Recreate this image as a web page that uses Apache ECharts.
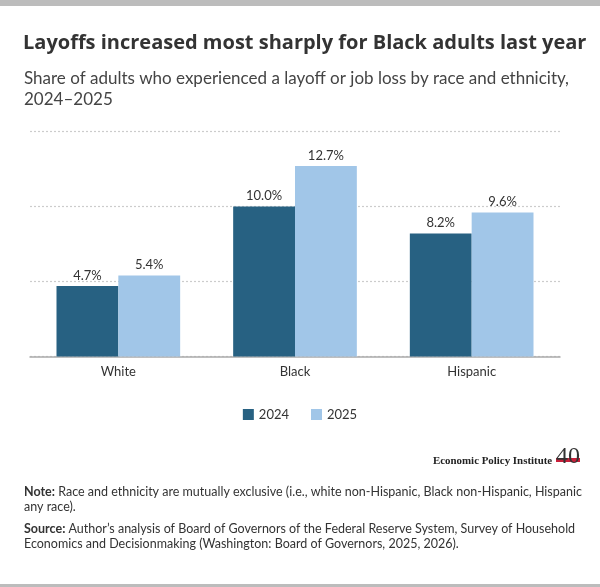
<!DOCTYPE html>
<html>
<head>
<meta charset="utf-8">
<style>
  html, body { margin: 0; padding: 0; background: #fff; }
  #chart { width: 600px; height: 587px; }
</style>
<script src="https://cdn.jsdelivr.net/npm/echarts@6/dist/echarts.min.js"></script>
</head>
<body>
<div id="chart"></div>
<script>
// data
var categories = ['White', 'Black', 'Hispanic'];
var seriesNames = ['2024', '2025'];
var values2024 = [4.7, 10.0, 8.2];
var values2025 = [5.4, 12.7, 9.6];
var yTicks = [0, 5, 10, 15];

var darkBlue = '#276182';
var lightBlue = '#a1c6e8';
var textColor = '#333333';
var font = 'Lato, "Open Sans", sans-serif';

var myChart = echarts.init(document.getElementById('chart'), null, { renderer: 'canvas' });

// value label above each bar
function barLabel() {
	return {
		show: true, position: 'top', distance: 4,
		fontSize: 13, color: textColor, fontFamily: font,
		formatter: function(p) { return p.value.toFixed(1) + '%'; }
	};
}

var option = {
	backgroundColor: '#ffffff',
	animation: false,
	textStyle: { fontFamily: font },
	title: [{
		text: 'Layoffs increased most sharply for Black adults last year',
		left: 18, top: 28,
		textStyle: { fontSize: 20, fontWeight: 'bold', color: '#333', fontFamily: '"Open Sans", Lato, sans-serif' }
	}, {
		text: 'Share of adults who experienced a layoff or job loss by race and ethnicity,\n2024\u20132025',
		left: 19, top: 63,
		textStyle: { fontSize: 17, fontWeight: 'normal', color: '#444', lineHeight: 21, fontFamily: font }
	}, {
		// note + source
		text: '{b|Note:} Race and ethnicity are mutually exclusive (i.e., white non-Hispanic, Black non-Hispanic, Hispanic\nany race).',
		left: 19, top: 479,
		textStyle: {
			fontSize: 12.5, fontWeight: 'normal', color: textColor, lineHeight: 15.5, fontFamily: font,
			rich: { b: { fontWeight: 'bold', fontSize: 12.5, color: textColor, fontFamily: font } }
		}
	}, {
		text: '{b|Source:} Author\u2019s analysis of Board of Governors of the Federal Reserve System, Survey of Household\nEconomics and Decisionmaking (Washington: Board of Governors, 2025, 2026).',
		left: 19, top: 516,
		textStyle: {
			fontSize: 12.5, fontWeight: 'normal', color: textColor, lineHeight: 15.5, fontFamily: font,
			rich: { b: { fontWeight: 'bold', fontSize: 12.5, color: textColor, fontFamily: font } }
		}
	}],
	legend: {
		data: seriesNames,
		left: 'center',
		top: 403,
		itemWidth: 11,
		itemHeight: 11,
		itemGap: 22,
		icon: 'rect',
		textStyle: { fontSize: 13, color: textColor, fontFamily: font }
	},
	grid: {
		left: 30, right: 40, top: 131.5, bottom: 230.5,
		containLabel: false
	},
	xAxis: {
		type: 'category',
		data: categories,
		axisLine: { show: true, lineStyle: { color: '#aaaaaa', width: 1.5 } },
		axisTick: { show: false },
		axisLabel: { fontSize: 13, color: textColor, margin: 9, fontFamily: font }
	},
	yAxis: {
		type: 'value',
		min: yTicks[0],
		max: yTicks[yTicks.length - 1],
		interval: yTicks[1] - yTicks[0],
		axisLabel: { show: false },
		axisLine: { show: false },
		axisTick: { show: false },
		splitLine: { show: true, lineStyle: { color: '#cccccc', type: [2, 2], width: 1.2 } }
	},
	series: [{
		name: seriesNames[0],
		type: 'bar',
		data: values2024,
		barGap: '0%',
		barCategoryGap: '30%',
		itemStyle: { color: darkBlue },
		label: barLabel()
	}, {
		name: seriesNames[1],
		type: 'bar',
		data: values2025,
		barGap: '0%',
		barCategoryGap: '30%',
		itemStyle: { color: lightBlue },
		label: barLabel()
	}],
	graphic: [
		// grey bands top and bottom
		{ type: 'rect', shape: { x: 0, y: 0, width: 600, height: 6 }, style: { fill: '#bcbcbc' }, silent: true },
		{ type: 'rect', shape: { x: 0, y: 584, width: 600, height: 3 }, style: { fill: '#bcbcbc' }, silent: true },
		// EPI logo
		{
			type: 'text', left: 433, top: 456,
			style: {
				text: 'Economic Policy Institute',
				font: 'bold 10.9px "Liberation Serif", "DejaVu Serif", serif',
				fill: '#222'
			}
		},
		{ type: 'rect', shape: { x: 556, y: 458, width: 24, height: 4 }, style: { fill: '#c8203a' }, silent: true },
		{
			type: 'text', left: 556, top: 445,
			style: {
				text: '40',
				font: '24px "Liberation Serif", "DejaVu Serif", serif',
				fill: '#333'
			}
		}
	]
};

myChart.setOption(option);
</script>
</body>
</html>
